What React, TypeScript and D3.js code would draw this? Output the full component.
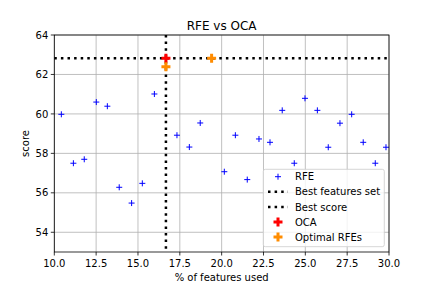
import * as d3 from 'd3';

// RFE scores by % of features used
const rfeX = [10.42, 11.14, 11.79, 12.51, 13.17, 13.88, 14.62, 15.26, 15.98, 16.67, 17.33, 18.07, 18.72, 19.42, 20.16, 20.82, 21.53, 22.23, 22.89, 23.62, 24.34, 24.98, 25.72, 26.37, 27.07, 27.77, 28.46, 29.18, 29.82];
const rfeY = [59.98, 57.5, 57.7, 60.6, 60.39, 56.28, 55.48, 56.48, 61.01, 62.8, 58.92, 58.32, 59.54, 62.8, 57.07, 58.92, 56.67, 58.73, 58.56, 60.18, 57.5, 60.79, 60.18, 58.31, 59.53, 59.98, 58.56, 57.5, 58.31];

const bestFeatures = 16.67;
const bestScore = 62.82;

const ocaX = [16.67];
const ocaY = [62.82];

const optimalX = [16.67, 19.4];
const optimalY = [62.39, 62.82];

const xTicks = [10, 12.5, 15, 17.5, 20, 22.5, 25, 27.5, 30];
const yTicks = [54, 56, 58, 60, 62, 64];

const legendLabels = ['RFE', 'Best features set', 'Best score', 'OCA', 'Optimal RFEs'];

const font = 'DejaVu Sans, sans-serif';

// matplotlib 'P' marker (filled plus)
function filledPlus(s: number) {
  const a = s / 2;
  const b = s / 6;
  return `M${-b},${-a}H${b}V${-b}H${a}V${b}H${b}V${a}H${-b}V${b}H${-a}V${-b}H${-b}Z`;
}

export default function App() {
  const left = 54.3;
  const right = 389;
  const top = 35;
  const bottom = 252;

  const x = d3.scaleLinear().domain([10, 30]).range([left, right]);
  const y = d3.scaleLinear().domain([53, 64]).range([bottom, top]);

  const dotted = { stroke: '#000', strokeWidth: 2.5, strokeDasharray: '2.5,4.1' };

  const lg = { x0: 263.3, y0: 169.3, w: 121, h: 77.4 };

  return (
    <svg width={432} height={288} style={{ position: 'absolute', left: 0, top: 0, fontFamily: font }}>
      <rect width={432} height={288} fill="#fff" />

      {/* grid */}
      {xTicks.map((t) => (
        <line key={'gx' + t} x1={x(t)} x2={x(t)} y1={top} y2={bottom} stroke="#b0b0b0" strokeWidth={0.8} />
      ))}
      {yTicks.map((t) => (
        <line key={'gy' + t} x1={left} x2={right} y1={y(t)} y2={y(t)} stroke="#b0b0b0" strokeWidth={0.8} />
      ))}

      {/* RFE points */}
      {rfeX.map((v, i) => (
        <path
          key={'r' + i}
          d="M-3,0H3M0,-3V3"
          transform={`translate(${x(v)},${y(rfeY[i])})`}
          stroke="#0000ff"
          strokeWidth={1}
          fill="none"
        />
      ))}

      {/* best lines */}
      <line x1={x(bestFeatures)} x2={x(bestFeatures)} y1={top} y2={bottom} {...dotted} />
      <line x1={left} x2={right} y1={y(bestScore)} y2={y(bestScore)} {...dotted} />

      {ocaX.map((v, i) => (
        <path key={'o' + i} d={filledPlus(9)} transform={`translate(${x(v)},${y(ocaY[i])})`} fill="#ff0000" />
      ))}
      {optimalX.map((v, i) => (
        <path key={'p' + i} d={filledPlus(9)} transform={`translate(${x(v)},${y(optimalY[i])})`} fill="#ff8c00" />
      ))}

      {/* axes frame */}
      <rect x={left} y={top} width={right - left} height={bottom - top} fill="none" stroke="#000" strokeWidth={0.8} />

      {/* ticks */}
      {xTicks.map((t) => (
        <g key={'xt' + t}>
          <line x1={x(t)} x2={x(t)} y1={bottom} y2={bottom + 3.5} stroke="#000" strokeWidth={0.8} />
          <text x={x(t)} y={bottom + 14.5} fontSize={10} textAnchor="middle" fill="#000">
            {t.toFixed(1)}
          </text>
        </g>
      ))}
      {yTicks.map((t) => (
        <g key={'yt' + t}>
          <line x1={left - 3.5} x2={left} y1={y(t)} y2={y(t)} stroke="#000" strokeWidth={0.8} />
          <text x={left - 6} y={y(t) + 3.6} fontSize={10} textAnchor="end" fill="#000">
            {t}
          </text>
        </g>
      ))}

      <text x={(left + right) / 2} y={30} fontSize={12} textAnchor="middle">
        RFE vs OCA
      </text>
      <text x={(left + right) / 2} y={281} fontSize={10} textAnchor="middle">
        % of features used
      </text>
      <text transform={`translate(29,${(top + bottom) / 2}) rotate(-90)`} fontSize={10} textAnchor="middle">
        score
      </text>

      {/* legend */}
      <rect x={lg.x0} y={lg.y0} width={lg.w} height={lg.h} rx={2} fill="#fff" fillOpacity={0.8} stroke="#cccccc" strokeWidth={0.8} />
      {legendLabels.map((l, i) => {
        const cy = 176.7 + i * 15.1;
        const mx = 278;
        let mark;
        if (i === 0) mark = <path d="M-3,0H3M0,-3V3" transform={`translate(${mx},${cy})`} stroke="#0000ff" strokeWidth={1} />;
        else if (i < 3) mark = <line x1={mx - 10} x2={mx + 10} y1={cy} y2={cy} {...dotted} />;
        else mark = <path d={filledPlus(9)} transform={`translate(${mx},${cy})`} fill={i === 3 ? '#ff0000' : '#ff8c00'} />;
        return (
          <g key={l}>
            {mark}
            <text x={295} y={cy + 3.6} fontSize={10} fill="#000">
              {l}
            </text>
          </g>
        );
      })}
    </svg>
  );
}
